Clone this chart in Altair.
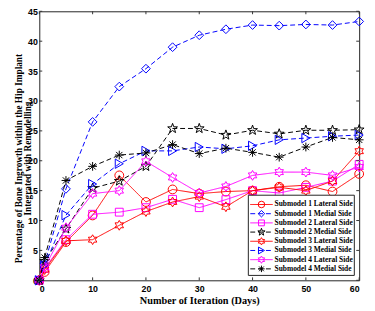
import numpy as np
import pandas as pd
import altair as alt

days = [0, 1, 5, 10, 15, 20, 25, 30, 35, 40, 45, 50, 55, 60]
series_names = [
    "Submodel 1 Lateral Side", "Submodel 1 Medial Side",
    "Submodel 2 Lateral Side", "Submodel 2 Medial Side",
    "Submodel 3 Lateral Side", "Submodel 3 Medial Side",
    "Submodel 4 Lateral Side", "Submodel 4 Medial Side",
]
s1_lat = [0, 1.4, 6.4, 10.85, 17.55, 13.1, 15.2, 14.5, 14.85, 15.0, 15.65, 15.9, 14.85, 17.8]
s1_med = [0, 2.8, 15.3, 26.5, 32.4, 35.4, 39.0, 41.0, 42.0, 42.7, 42.6, 42.8, 42.7, 43.3]
s2_lat = [0, 2.0, 6.8, 11.05, 11.4, 12.15, 13.55, 12.15, 13.5, 15.0, 14.6, 15.55, 16.6, 19.4]
s2_med = [0, 3.2, 8.6, 15.4, 16.6, 19.06, 25.4, 25.4, 24.3, 25.1, 24.5, 25.1, 25.1, 25.2]
s3_lat = [0, 1.8, 6.6, 6.8, 9.2, 11.5, 13.1, 14.0, 12.3, 15.0, 15.55, 15.0, 16.6, 21.6]
s3_med = [0, 2.5, 10.9, 16.1, 19.5, 21.65, 21.65, 22.3, 22.0, 22.5, 23.5, 23.8, 24.1, 24.3]
s4_lat = [0, 2.2, 8.8, 14.5, 15.0, 19.9, 17.2, 14.6, 15.7, 17.55, 18.1, 18.1, 17.55, 18.95]
s4_med = [0, 3.8, 16.7, 19.06, 20.95, 21.3, 22.7, 21.2, 22.1, 21.4, 20.6, 22.3, 23.9, 23.5]
x_ticks = [0, 10, 20, 30, 40, 50, 60]
y_ticks = [0, 5, 10, 15, 20, 25, 30, 35, 40, 45]
x_title = "Number of Iteration (Days)"
y_title_lines = ["Percentage of Bone Ingrowth within the Hip Implant", "Integrated with Remodelling"]

all_series = [s1_lat, s1_med, s2_lat, s2_med, s3_lat, s3_med, s4_lat, s4_med]

# ---- styling ----
W, H = 327, 275
PAD_L = 32
SERIF = "Liberation Serif"
SANS = "Liberation Sans"


def star_path(n, inner):
    pts = []
    for k in range(2 * n):
        ang = -np.pi / 2 + k * np.pi / n
        r = 1.0 if k % 2 == 0 else inner
        pts.append(f"{r*np.cos(ang):.3f},{r*np.sin(ang):.3f}")
    return "M" + "L".join(pts) + "Z"


hexagram = star_path(6, 0.577)
pentagram = star_path(5, 0.40)
asterisk = "M0,-1L0,1M-1,0L1,0M-0.72,-0.72L0.72,0.72M-0.72,0.72L0.72,-0.72"

colors = ["#ff0000", "#0000ff", "#ff00ff", "#000000", "#ff0000", "#0000ff", "#ff00ff", "#000000"]
dashes = [[1, 0], [5, 3]] * 4
shapes = ["circle", "diamond", "square", pentagram, hexagram, "triangle-right", hexagram, asterisk]
sizes = [81, 80, 64, 110, 100, 90, 100, 80]

xs = alt.Scale(domain=[0, 60], nice=False, zero=False)
ys = alt.Scale(domain=[0, 45], nice=False, zero=False)
x_enc = alt.X("day:Q", scale=xs, axis=alt.Axis(values=x_ticks, title=x_title,
                                               labelPadding=4, titlePadding=3))
# y title through the axis itself, placed explicitly
y_enc = alt.Y("pct:Q", scale=ys, axis=alt.Axis(values=y_ticks, title=y_title_lines, labelPadding=2,
                                               titleAngle=270, titleX=-21, titleY=150,
                                               titleAlign="center", titleBaseline="middle",
                                               titleLineHeight=9.5, titleFontSize=9.5))

PL, PR = 38.0, 367.0
px_day = (PR - PL) / 60.0
px_pct = H / 45.0
row_top_px, row_step_px = 197.5, 9.4

layers = []
for name, vals, c, d, s, z in zip(series_names, all_series, colors, dashes, shapes, sizes):
    sdf = pd.DataFrame({"day": days, "pct": vals})
    layers.append(alt.Chart(sdf).mark_line(color=c, strokeWidth=1, strokeDash=d).encode(x=x_enc, y=y_enc))
    layers.append(alt.Chart(sdf).mark_point(color=c, shape=s, size=z, filled=False, strokeWidth=1,
                                            opacity=1).encode(x=x_enc, y=y_enc))

# inward ticks on all four sides
xt = pd.DataFrame({"day": x_ticks})
yt = pd.DataFrame({"pct": y_ticks})
tick_style = dict(color="#333333", strokeWidth=1)
layers.append(alt.Chart(xt).mark_rule(**tick_style).encode(x=x_enc, y=alt.value(H), y2=alt.value(H - 3)))
layers.append(alt.Chart(xt).mark_rule(**tick_style).encode(x=x_enc, y=alt.value(0), y2=alt.value(3)))
layers.append(alt.Chart(yt).mark_rule(**tick_style).encode(y=y_enc, x=alt.value(0), x2=alt.value(3)))
layers.append(alt.Chart(yt).mark_rule(**tick_style).encode(y=y_enc, x=alt.value(W), x2=alt.value(W - 3)))

# legend box
box = pd.DataFrame({"day": [(253 - PL) / px_day], "day2": [(362 - PL) / px_day],
                    "pct": [(H - 188) / px_pct], "pct2": [(H - 270) / px_pct]})
layers.append(alt.Chart(box).mark_rect(fill="white", stroke="#222222", strokeWidth=1).encode(
    x=x_enc, x2="day2:Q", y=y_enc, y2="pct2:Q"))

for i, (name, c, d, s, z) in enumerate(zip(series_names, colors, dashes, shapes, sizes)):
    ly = (H - (row_top_px + i * row_step_px)) / px_pct
    ldf = pd.DataFrame({"day": [(255 - PL) / px_day], "day2": [(278 - PL) / px_day], "pct": [ly]})
    mdf = pd.DataFrame({"day": [(266.5 - PL) / px_day], "pct": [ly]})
    tdf = pd.DataFrame({"day": [(280 - PL) / px_day], "pct": [ly], "label": [name]})
    layers.append(alt.Chart(ldf).mark_rule(color=c, strokeWidth=1, strokeDash=d).encode(
        x=x_enc, x2="day2:Q", y=y_enc))
    layers.append(alt.Chart(mdf).mark_point(color=c, shape=s, size=z * 0.55, filled=False,
                                            strokeWidth=1, opacity=1).encode(x=x_enc, y=y_enc))
    layers.append(alt.Chart(tdf).mark_text(align="left", baseline="middle", font=SERIF,
                                           fontWeight="bold", fontSize=7.6, color="black").encode(
        x=x_enc, y=y_enc, text="label:N"))

chart = alt.layer(*layers).properties(
    width=W, height=H,
    autosize=alt.AutoSizeParams(type="none"),
    padding={"left": PAD_L, "top": 0, "right": 8, "bottom": 28},
).configure_view(stroke="#222222", strokeWidth=1).configure_axis(
    domain=False, ticks=False, grid=False,
    labelFont=SANS, labelFontWeight="bold", labelFontSize=9, labelColor="black",
    titleFont=SERIF, titleFontWeight="bold", titleFontSize=10.5, titleColor="black",
)

chart.save("out.html", embed_options={"renderer": "svg", "actions": False})
